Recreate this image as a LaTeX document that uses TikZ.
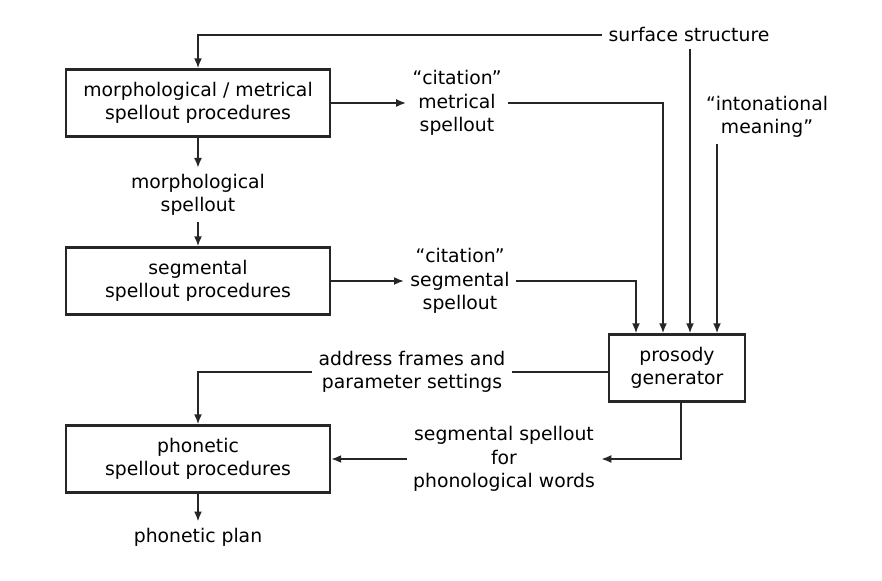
\documentclass[tikz,border=0pt]{standalone}
\usepackage{fontspec}
\setmainfont{DejaVu Sans}
\usetikzlibrary{arrows.meta,positioning,calc}
\tikzset{
  proc/.style={draw=black!85, line width=1.2pt, minimum width=132pt,
    minimum height=33.5pt, align=center, inner sep=0pt,
    font=\fontsize{9.4}{11.6}\selectfont},
  lbl/.style={align=center, inner sep=3pt, font=\fontsize{9.4}{11.6}\selectfont},
  flow/.style={-{Latex[length=5pt,width=4pt]}, line width=0.9pt, black!85},
  wire/.style={line width=0.9pt, black!85}
}

\begin{document}
\begin{tikzpicture}[x=0.5pt,y=-0.5pt]
  \useasboundingbox (0,0) rectangle (882,581);
  % procedure boxes
  \node[proc] (morph) at (198,103) {morphological / metrical\\spellout procedures};
  \node[proc] (segm) at (198,281) {segmental\\spellout procedures};
  \node[proc] (phon) at (198,459) {phonetic\\spellout procedures};
  \node[proc, minimum width=68pt] (pros) at (677,368) {prosody\\generator};

  % labels
  \node[lbl] (surf) at (689,35) {surface structure};
  \node[lbl] (citmet) at (457,103) {``citation''\\metrical\\spellout};
  \node[lbl] (intmean) at (767,117) {``intonational\\meaning''};
  \node[lbl] (mspell) at (198,195) {morphological\\spellout};
  \node[lbl] (citseg) at (460,281) {``citation''\\segmental\\spellout};
  \node[lbl] (addr) at (412,372) {address frames and\\parameter settings};
  \node[lbl] (segfor) at (504,459) {segmental spellout\\for\\phonological words};
  \node[lbl] (plan) at (198,537) {phonetic plan};

  % inputs of the prosody generator
  \foreach \n/\dx in {1/-41,2/-14,3/13,4/40}
    \coordinate (in\n) at ($(pros.north)+(\dx,0)$);

  \draw[flow] (surf.west) -| (morph.north);
  \draw[flow] (morph.east) -- (citmet.west);
  \draw[flow] (morph.south) -- (mspell.north);
  \draw[flow] (mspell.south) -- (segm.north);
  \draw[flow] (segm.east) -- (citseg.west);
  \draw[flow] (citmet.east) -| (in2);
  \draw[flow] (citseg.east) -| (in1);
  \draw[flow] (surf.south -| in3) -- (in3);
  \draw[flow] (intmean.south -| in4) -- (in4);
  \draw[wire] (pros.west |- addr.east) -- (addr.east);
  \draw[flow] (addr.west) -| (phon.north);
  \draw[flow] ([xshift=2pt]pros.south) |- (segfor.east);
  \draw[flow] (segfor.west) -- (phon.east);
  \draw[flow] (phon.south) -- (plan.north);
\end{tikzpicture}
\end{document}
